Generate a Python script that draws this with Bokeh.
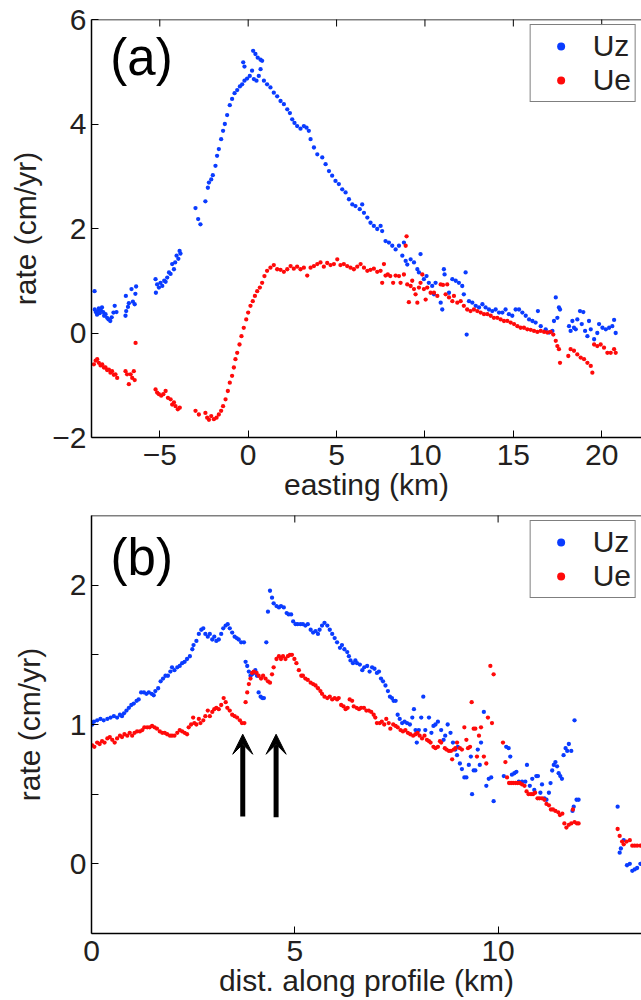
import math
from bokeh.plotting import figure
from bokeh.layouts import column
from bokeh.models import (FixedTicker, Legend, LegendItem, Label, Span,
                          Arrow, VeeHead, Range1d)
from bokeh.embed import file_html
from bokeh.resources import INLINE

# ---------------- data: panel (a) ----------------
a_uz_x = [-8.69, -8.68, -8.62, -8.55, -8.50, -8.45, -8.40, -8.33, -8.27, -8.20, -8.15, -8.07, -7.98, -7.90,
          -7.80, -7.72, -7.62, -7.55, -7.45, -6.94, -6.90, -6.92, -6.80, -6.75, -6.60, -6.52, -6.42, -6.34, -6.38,
          -5.24, -5.22, -5.15, -5.05, -4.96, -4.86, -4.75, -4.67, -4.58, -4.48, -4.39, -4.30, -4.20, -4.13,
          -4.05, -3.95, -3.88, -3.83,
          -2.98, -2.83, -2.70, -2.42, -2.28, -2.22, -2.09, -2.00, -1.85, -1.76, -1.66, -1.53, -1.42, -1.32,
          -1.19, -1.04, -0.91, -0.77, -0.62, -0.47, -0.34, -0.21, -0.06, 0.09, 0.22, 0.32, 0.47, 0.28, 0.41,
          0.54, 0.70, 0.79, -0.28, -0.21, 0.60, 0.70,
          0.89, 1.07, 1.26, 1.45, 1.64, 1.83, 2.02, 2.21, 2.36, 2.49, 2.62, 2.77, 2.96, 3.15, 3.30, 3.43,
          3.53, 3.72, 3.91, 4.19, 4.38, 4.57, 4.75, 4.94, 5.13, 5.32, 5.51, 5.70, 5.89, 6.07, 6.31, 6.45,
          6.55, 6.74, 6.92, 7.11, 7.30, 7.49, 7.58, 7.77, 7.96, 8.15, 8.34, 8.53, 8.72, 8.81, 8.91, 9.00,
          9.19, 9.38, 9.57, 9.75, 9.66, 9.94, 10.09, 10.22, 10.41, 10.51, 10.60, 10.89, 10.98, 11.07, 11.11,
          11.36, 11.55, 11.74, 11.92, 12.11, 12.20, 12.30, 12.36, 12.49, 12.68, 12.87, 13.06, 13.25, 13.43,
          13.62, 13.81, 14.00, 14.19, 14.38, 14.56, 14.75, 14.94, 15.13, 15.32, 15.51, 15.70, 15.89, 16.08,
          16.26, 16.39, 16.55, 16.83, 17.02, 17.21, 17.30, 17.40, 17.49, 17.58, 17.64, 18.15, 18.24, 18.34,
          18.43, 18.53, 18.62, 18.77, 18.87, 18.96, 19.06, 19.19, 19.28, 19.38, 19.57, 19.75, 19.85, 20.04,
          20.23, 20.42, 20.60, 20.70, 20.79]
a_uz_y = [0.80, 0.45, 0.40, 0.35, 0.42, 0.47, 0.38, 0.43, 0.49, 0.40, 0.33, 0.36, 0.29, 0.26,
          0.23, 0.30, 0.39, 0.52, 0.40, 0.33, 0.42, 0.71, 0.50, 0.57, 0.84, 0.60, 0.55, 0.89, 0.75,
          1.03, 0.77, 0.93, 0.87, 0.96, 0.90, 1.00, 0.98, 1.06, 1.16, 1.13, 1.32, 1.22, 1.35,
          1.48, 1.42, 1.57, 1.52,
          2.39, 2.18, 2.08, 2.52, 2.78, 2.88, 2.94, 3.02, 3.20, 3.39, 3.52, 3.71, 3.87, 4.00,
          4.17, 4.36, 4.48, 4.59, 4.65, 4.72, 4.76, 4.83, 4.87, 4.92, 5.02, 4.86, 4.83, 5.40, 5.34,
          5.27, 5.23, 5.21, 5.18, 5.10, 4.92, 5.05,
          4.83, 4.76, 4.70, 4.60, 4.53, 4.44, 4.38, 4.28, 4.21, 4.09, 4.02, 3.96, 3.91, 3.96, 3.93, 3.87,
          3.71, 3.55, 3.42, 3.36, 3.23, 3.10, 3.01, 2.91, 2.85, 2.75, 2.69, 2.56, 2.46, 2.43, 2.37, 2.46,
          2.30, 2.21, 2.11, 2.05, 1.99, 2.05, 1.95, 1.76, 1.73, 1.67, 1.60, 1.67, 1.48, 1.73, 1.38, 1.31,
          1.41, 1.35, 1.22, 1.51, 1.16, 1.03, 1.09, 0.96, 0.90, 0.74, 0.96, 0.58, 0.45, 1.22, 1.12,
          0.77, 1.03, 1.00, 0.96, 0.90, 0.74, 1.16, -0.03, 0.61, 0.58, 0.52, 0.49, 0.55, 0.49,
          0.45, 0.42, 0.45, 0.39, 0.39, 0.45, 0.36, 0.33, 0.45, 0.45, 0.39, 0.33, 0.26, 0.23,
          0.20, 0.42, 0.13, 0.07, 0.01, 0.04, 0.23, 0.68, 0.29, 0.49, 0.45, 0.13, 0.04, 0.23,
          0.10, 0.07, 0.26, 0.42, 0.17, 0.40, 0.04, -0.06, 0.23, 0.07, -0.12, 0.00, 0.17, 0.10,
          0.07, 0.10, 0.13, 0.25, 0.00]

a_ue_x = [-8.73, -8.63, -8.54, -8.45, -8.35, -8.26, -8.16, -8.07, -7.98, -7.88, -7.79, -7.70, -7.60, -7.51,
          -7.41, -6.94, -6.85, -6.75, -6.65, -6.56, -6.47, -6.42, -6.37,
          -5.24, -5.15, -5.05, -4.92, -4.80, -4.67, -4.54, -4.39, -4.30, -4.20, -4.11, -3.98, -3.87,
          -2.98, -2.79, -2.42, -2.32, -2.22, -2.09, -1.94, -1.79, -1.66, -1.53, -1.42, -1.28, -1.15, -1.04,
          -0.91, -0.81, -0.72, -0.62, -0.49, -0.38, -0.25, -0.11, 0.00, 0.13, 0.26, 0.38, 0.51, 0.66, 0.79,
          0.92, 1.07, 1.26, 1.45, 1.64, 1.83, 2.02, 2.21, 2.40, 2.58, 2.77, 2.96, 3.15, 3.34, 3.53, 3.72,
          3.91, 4.09, 4.28, 4.47, 4.66, 4.85, 5.04, 5.22, 5.41, 5.60, 5.79, 5.98, 6.17, 6.36, 6.55, 6.74,
          6.92, 7.11, 7.30, 7.49, 7.58, 7.68, 7.77, 7.90, 8.04, 8.20, 8.34, 8.53, 8.62, 8.81, 8.96, 8.91,
          9.00, 9.09, 9.19, 9.28, 9.38, 9.47, 9.57, 9.66, 9.75, 9.85, 9.94, 10.04, 10.13, 10.32, 10.51,
          10.70, 10.89, 11.02, 11.17, 11.26, 11.36, 11.55, 11.64, 11.83, 12.02, 12.20, 12.39, 12.58, 12.77,
          12.96, 13.15, 13.34, 13.53, 13.72, 13.90, 14.09, 14.28, 14.47, 14.66, 14.85, 15.04, 15.23, 15.41,
          15.60, 15.79, 15.98, 16.17, 16.36, 16.55, 16.74, 16.92, 17.11, 17.26, 17.40, 17.49, 17.58, 17.64,
          18.11, 18.24, 18.43, 18.62, 18.81, 19.00, 19.19, 19.38, 19.47, 19.57, 19.75, 19.94, 20.13, 20.32,
          20.51, 20.70, 20.79]
a_ue_y = [-0.60, -0.53, -0.50, -0.57, -0.62, -0.60, -0.66, -0.66, -0.71, -0.70, -0.76, -0.73, -0.80, -0.79,
          -0.86, -0.73, -0.79, -0.98, -0.79, -0.86, -0.73, -0.90, -0.19,
          -1.08, -1.14, -1.17, -1.20, -1.17, -1.11, -1.24, -1.27, -1.37, -1.33, -1.40, -1.46, -1.43,
          -1.49, -1.56, -1.53, -1.62, -1.66, -1.59, -1.65, -1.62, -1.56, -1.49, -1.40, -1.27, -1.11, -0.95,
          -0.82, -0.66, -0.50, -0.38, -0.22, -0.06, 0.10, 0.26, 0.39, 0.52, 0.61, 0.71, 0.80, 0.87, 0.96,
          1.09, 1.19, 1.25, 1.30, 1.22, 1.21, 1.17, 1.22, 1.28, 1.23, 1.27, 1.22, 1.25, 1.10, 1.25, 1.28,
          1.32, 1.35, 1.27, 1.34, 1.30, 1.32, 1.41, 1.30, 1.32, 1.28, 1.25, 1.22, 1.27, 1.32, 1.25, 1.19,
          1.21, 1.23, 1.17, 1.19, 0.96, 1.32, 1.10, 1.12, 1.09, 0.96, 1.10, 1.09, 0.96, 1.12, 1.85, 1.67,
          0.93, 0.59, 0.90, 1.00, 0.84, 0.74, 0.58, 0.87, 0.96, 1.12, 0.84, 0.64, 0.87, 0.77, 0.77,
          0.71, 0.93, 0.92, 0.74, 0.93, 0.68, 0.61, 0.71, 0.58, 0.61, 0.52, 0.45, 0.42, 0.45,
          0.42, 0.39, 0.36, 0.36, 0.33, 0.29, 0.29, 0.26, 0.23, 0.23, 0.20, 0.17, 0.13, 0.10,
          0.10, 0.07, 0.06, 0.04, 0.02, 0.04, 0.02, 0.01, 0.02, -0.03, -0.15, -0.25, -0.31, -0.57,
          -0.44, -0.31, -0.34, -0.41, -0.47, -0.50, -0.57, -0.63, -0.76, -0.22, -0.25, -0.22, -0.28, -0.38,
          -0.38, -0.31, -0.38]

# ---------------- data: panel (b) ----------------
b_uz_x = [0.02, 0.06, 0.14, 0.22, 0.30, 0.39, 0.47, 0.55, 0.63, 0.70, 0.75, 0.80, 0.86, 0.92, 0.98, 1.04,
          1.11, 1.16, 1.22, 1.29, 1.35, 1.41, 1.48, 1.53, 1.57, 1.64, 1.70, 1.76, 1.82, 1.88, 1.94, 1.98,
          2.04, 2.11, 2.17, 2.23, 2.29, 2.35, 2.42, 2.48, 2.51, 2.58, 2.64, 2.70, 2.75, 2.80, 2.86, 2.91,
          2.97, 3.02, 3.07, 3.13, 3.19, 3.24, 3.30, 3.35, 3.40, 3.46, 3.52, 3.57, 3.62, 3.68, 3.75, 3.79,
          3.83, 3.87, 3.91, 3.95, 3.99, 4.03, 4.07, 4.11, 4.16, 4.20, 4.24, 4.30, 4.34, 4.39, 4.44, 4.48,
          4.55, 4.61, 4.66, 4.73, 4.80, 4.85, 4.91, 4.96, 5.02, 5.07, 5.14, 5.20, 5.26, 5.32, 5.39, 5.45,
          5.51, 5.57, 5.61, 5.67, 5.73, 5.80, 5.86, 5.92, 5.98, 6.04, 6.11, 6.16, 6.22, 6.29, 6.33, 6.37,
          6.43, 6.49, 6.53, 6.60, 6.66, 6.71, 6.78, 6.84, 6.90, 6.96, 7.02, 7.07, 7.12, 7.17, 7.23, 7.29,
          7.34, 7.39, 7.43, 7.48, 7.53, 7.58, 7.64, 7.70, 7.76, 7.83, 7.89, 7.93, 7.97, 8.00, 8.05, 8.11,
          8.16, 8.21, 8.30, 8.36, 8.41, 8.46, 8.52, 8.60, 8.66, 8.70, 8.76, 8.83, 8.89, 8.95, 8.99, 9.01,
          9.06, 9.11, 9.17, 9.22, 9.28, 9.33, 9.36, 9.40, 9.44, 9.50, 9.55, 9.58, 9.65, 9.71, 9.77, 9.83,
          9.89, 10.14, 10.20, 10.26, 10.30, 10.34, 10.40, 10.45, 10.51, 10.59, 10.67, 10.71, 10.78, 10.84,
          10.89, 10.94, 10.98, 11.04, 11.08, 11.14, 11.19, 11.25, 11.29, 11.33, 11.37, 11.41, 11.45, 11.49,
          11.53, 11.57, 11.61, 11.66, 11.70, 11.74, 11.80, 11.88, 11.83, 11.86, 11.93, 11.98,
          12.94, 12.99, 13.02, 13.09, 13.17, 13.24, 13.30, 13.36, 13.42, 13.50]
b_uz_y = [1.00, 1.02, 1.03, 1.04, 1.03, 1.04, 1.05, 1.06, 1.05, 1.07, 1.06, 1.08, 1.10, 1.12, 1.14, 1.15,
          1.17, 1.18, 1.23, 1.23, 1.22, 1.23, 1.22, 1.21, 1.24, 1.26, 1.31, 1.33, 1.35, 1.35, 1.38, 1.41,
          1.39, 1.41, 1.42, 1.44, 1.45, 1.47, 1.49, 1.54, 1.57, 1.60, 1.65, 1.68, 1.69, 1.65, 1.63, 1.65,
          1.61, 1.63, 1.60, 1.61, 1.65, 1.69, 1.71, 1.72, 1.69, 1.66, 1.63, 1.62, 1.61, 1.59, 1.59, 1.45,
          1.42, 1.38, 1.35, 1.36, 1.37, 1.39, 1.35, 1.23, 1.20, 1.19, 1.19, 1.59, 1.81, 1.96, 1.91, 1.87,
          1.85, 1.84, 1.85, 1.84, 1.80, 1.79, 1.79, 1.74, 1.72, 1.72, 1.72, 1.72, 1.71, 1.72, 1.68, 1.66,
          1.67, 1.65, 1.68, 1.71, 1.73, 1.71, 1.68, 1.65, 1.62, 1.59, 1.55, 1.57, 1.54, 1.52, 1.49, 1.46,
          1.44, 1.46, 1.44, 1.43, 1.39, 1.41, 1.42, 1.38, 1.41, 1.40, 1.37, 1.38, 1.33, 1.31, 1.28, 1.24,
          1.20, 1.19, 1.17, 1.17, 1.07, 1.04, 1.01, 1.02, 1.01, 1.00, 1.05, 1.11, 0.96, 0.87, 0.96, 1.05,
          1.20, 0.96, 1.05, 0.94, 0.99, 1.00, 1.02, 0.96, 0.89, 0.92, 1.00, 0.94, 0.87, 0.82, 0.78, 0.84,
          0.72, 0.68, 0.62, 0.62, 0.71, 0.77, 0.50, 0.67, 0.67, 0.82, 0.71, 0.87, 1.09, 0.56, 0.61, 0.62,
          0.45, 0.63, 0.84, 0.83, 0.77, 0.64, 0.65, 0.66, 0.59, 0.59, 0.59, 0.71, 0.56, 0.61,
          0.53, 0.63, 0.63, 0.51, 0.57, 0.47, 0.46, 0.51, 0.58, 0.67, 0.71, 0.73, 0.70, 0.65,
          0.63, 0.61, 0.78, 0.83, 0.81, 0.86, 0.81, 1.03, 0.38, 0.41, 0.46, 0.46,
          0.41, 0.08, 0.11, 0.17, -0.01, 0.00, -0.05, -0.04, -0.03, 0.00]

b_ue_x = [0.02, 0.07, 0.14, 0.20, 0.26, 0.32, 0.39, 0.45, 0.51, 0.57, 0.63, 0.70, 0.75, 0.81, 0.88, 0.94,
          1.00, 1.06, 1.12, 1.19, 1.25, 1.30, 1.37, 1.43, 1.49, 1.55, 1.61, 1.68, 1.74, 1.80, 1.86, 1.93,
          1.98, 2.04, 2.11, 2.17, 2.23, 2.29, 2.35, 2.39, 2.45, 2.50, 2.53, 2.58, 2.64, 2.68, 2.75, 2.80,
          2.86, 2.91, 2.97, 3.02, 3.07, 3.13, 3.19, 3.25, 3.30, 3.34, 3.40, 3.46, 3.52, 3.58, 3.65, 3.70,
          3.76, 3.79, 3.83, 3.87, 3.91, 3.95, 3.99, 4.06, 4.11, 4.17, 4.22, 4.28, 4.34, 4.39, 4.44, 4.48,
          4.55, 4.61, 4.66, 4.71, 4.77, 4.83, 4.88, 4.93, 4.99, 5.04, 5.10, 5.16, 5.20, 5.26, 5.32, 5.39,
          5.45, 5.51, 5.57, 5.63, 5.67, 5.73, 5.80, 5.86, 5.92, 5.98, 6.04, 6.08, 6.14, 6.20, 6.25, 6.30,
          6.35, 6.41, 6.45, 6.52, 6.58, 6.63, 6.70, 6.76, 6.82, 6.88, 6.94, 6.98, 7.02, 7.09, 7.14, 7.20,
          7.25, 7.31, 7.35, 7.42, 7.48, 7.53, 7.60, 7.66, 7.72, 7.78, 7.84, 7.91, 7.97, 8.02, 8.07, 8.13,
          8.19, 8.25, 8.30, 8.34, 8.41, 8.46, 8.52, 8.57, 8.60, 8.69, 8.73, 8.79, 8.84, 8.87, 8.91, 8.95,
          8.99, 9.06, 9.11, 9.17, 9.22, 9.26, 9.31, 9.35, 9.40, 9.44, 9.48, 9.53, 9.58, 9.65, 9.71, 9.75,
          9.81, 9.85, 9.89, 10.12, 10.18, 10.22, 10.27, 10.32, 10.37, 10.43, 10.48, 10.53, 10.59, 10.65,
          10.70, 10.75, 10.81, 10.86, 10.91, 10.97, 11.02, 11.08, 11.14, 11.19, 11.25, 11.30, 11.35, 11.41,
          11.48, 11.52, 11.58, 11.63, 11.68, 11.74, 11.80, 11.84, 11.88, 11.94, 11.98,
          12.94, 12.99, 13.05, 13.09, 13.16, 13.24, 13.30, 13.36, 13.42, 13.50]
b_ue_y = [0.85, 0.84, 0.87, 0.86, 0.88, 0.87, 0.90, 0.91, 0.89, 0.87, 0.90, 0.92, 0.91, 0.93, 0.92, 0.94,
          0.92, 0.94, 0.95, 0.95, 0.96, 0.98, 0.98, 0.98, 0.99, 0.98, 0.97, 0.95, 0.94, 0.94, 0.93, 0.92,
          0.92, 0.92, 0.94, 0.96, 0.95, 0.94, 0.93, 0.98, 1.00, 1.05, 1.01, 1.00, 1.04, 1.01, 1.03, 1.06,
          1.10, 1.06, 1.09, 1.11, 1.12, 1.11, 1.14, 1.19, 1.16, 1.12, 1.10, 1.07, 1.06, 1.05, 1.03, 1.01,
          1.01, 1.16, 1.23, 1.29, 1.33, 1.37, 1.38, 1.37, 1.35, 1.33, 1.35, 1.33, 1.31, 1.30, 1.36, 1.41,
          1.47, 1.49, 1.47, 1.49, 1.47, 1.49, 1.50, 1.50, 1.47, 1.44, 1.39, 1.35, 1.35, 1.33, 1.32, 1.30,
          1.29, 1.28, 1.26, 1.24, 1.22, 1.20, 1.19, 1.20, 1.18, 1.19, 1.18, 1.19, 1.14, 1.13, 1.11, 1.12,
          1.18, 1.17, 1.13, 1.12, 1.11, 1.12, 1.12, 1.10, 1.10, 1.09, 1.07, 1.05, 1.01, 1.01, 1.02, 1.00,
          1.04, 1.01, 0.97, 1.00, 0.99, 0.98, 0.96, 0.95, 0.96, 0.94, 0.93, 0.92, 0.93, 0.94, 0.92, 0.90,
          0.92, 0.89, 0.88, 0.87, 0.84, 0.83, 0.84, 0.88, 0.87, 0.83, 0.82, 0.81, 0.81, 0.75, 0.82, 0.83,
          0.87, 0.83, 0.82, 0.98, 0.89, 0.83, 0.84, 1.16, 0.97, 0.97, 0.77, 0.92, 0.98, 0.77, 0.72, 1.05,
          1.42, 1.01, 1.36, 0.87, 0.73, 0.62, 0.58, 0.58, 0.58, 0.58, 0.58, 0.58, 0.57, 0.56,
          0.52, 0.50, 0.50, 0.50, 0.51, 0.47, 0.47, 0.47, 0.46, 0.43, 0.42, 0.39, 0.39, 0.38,
          0.37, 0.35, 0.36, 0.29, 0.26, 0.28, 0.29, 0.39, 0.30, 0.29, 0.29,
          0.25, 0.20, 0.16, 0.14, 0.16, 0.17, 0.13, 0.13, 0.13, 0.13]

# ticks / labels
a_xticks = [-5, 0, 5, 10, 15, 20]
a_yticks = [-2, 0, 2, 4, 6]
b_xticks = [0, 5, 10]
b_yticks = [0, 1, 2]
b_yminor = [0.5, 1.5]
arrow_x = [3.72, 4.54]
arrow_y0 = [0.34, 0.335]
arrow_y1 = [0.93, 0.93]

BLUE = "#0a3cff"
RED = "#ff0a0a"
TXT = "#231f20"
FONT = "Liberation Sans"
FS = "30px"


def fmt(t):
    return "\u2212" + str(-t) if t < 0 else str(t)


def style_axis(ax, ticks, minor=None):
    ax.ticker = FixedTicker(ticks=ticks, minor_ticks=minor or [])
    ax.major_label_overrides = {t: fmt(t) for t in ticks}
    ax.axis_line_width = 1.5
    ax.axis_line_color = "black"
    ax.major_tick_in = 7
    ax.major_tick_out = 0
    ax.minor_tick_in = 7 if minor else 0
    ax.minor_tick_out = 0
    ax.major_tick_line_color = "black"
    ax.minor_tick_line_color = "black"
    ax.major_label_text_font = FONT
    ax.major_label_text_font_size = FS
    ax.major_label_text_color = TXT
    ax.axis_label_text_font = FONT
    ax.axis_label_text_font_size = FS
    ax.axis_label_text_font_style = "normal"
    ax.axis_label_text_color = TXT


def make_panel(xr, yr, xt, yt, ymin, xlabel, tag, tag_x, tag_y, uzx, uzy, uex, uey,
               height, top_border, ylab_standoff):
    p = figure(width=641, height=height, x_range=Range1d(*xr), y_range=Range1d(*yr),
               output_backend="svg", toolbar_location=None,
               min_border_left=91, min_border_right=0, min_border_top=top_border,
               min_border_bottom=0)
    p.outline_line_color = None
    p.xgrid.visible = False
    p.ygrid.visible = False
    p.background_fill_color = "white"
    p.border_fill_color = "white"

    style_axis(p.xaxis[0], xt)
    style_axis(p.yaxis[0], yt, ymin)
    p.xaxis[0].major_label_standoff = 7
    p.xaxis[0].axis_label_standoff = 0
    p.yaxis[0].major_label_standoff = 5
    p.yaxis[0].axis_label_standoff = ylab_standoff
    p.xaxis[0].axis_label = xlabel
    p.yaxis[0].axis_label = "rate (cm/yr)"

    # top border of the box with inward ticks (MATLAB style box)
    p.add_layout(Span(location=yr[1], dimension="width", line_color="black", line_width=1.5))
    p.scatter(xt, [yr[1]] * len(xt), marker="dash", angle=math.pi / 2, size=14,
              line_color="black", line_width=1)

    r1 = p.scatter(uzx, uzy, size=4.3, color=BLUE, line_color=None)
    r2 = p.scatter(uex, uey, size=4.3, color=RED, line_color=None)

    leg = Legend(items=[LegendItem(label="Uz", renderers=[r1]),
                        LegendItem(label="Ue", renderers=[r2])],
                 location="top_right")
    leg.label_text_font = FONT
    leg.label_text_font_size = FS
    leg.label_text_color = TXT
    leg.border_line_color = "black"
    leg.border_line_width = 1.5
    leg.padding = 4
    leg.spacing = 0
    leg.margin = 5
    leg.glyph_width = 52
    leg.label_standoff = 6
    leg.label_height = 33
    p.add_layout(leg, "center")

    p.add_layout(Label(x=tag_x, y=tag_y, text=tag, text_font=FONT, text_font_size="51px",
                       text_color="black", text_baseline="top"))
    return p


pa = make_panel((-8.863, 22.25), (-2, 6), a_xticks, a_yticks, None, "easting (km)", "(a)",
                -7.8, 5.81, a_uz_x, a_uz_y, a_ue_x, a_ue_y, 503, 19, 7)
pb = make_panel((0, 13.527), (-0.5, 2.5), b_xticks, b_yticks, b_yminor, "dist. along profile (km)", "(b)",
                0.47, 2.40, b_uz_x, b_uz_y, b_ue_x, b_ue_y, 496, 12, 21)

for xa, y0, y1 in zip(arrow_x, arrow_y0, arrow_y1):
    pb.add_layout(Arrow(end=VeeHead(size=20, fill_color="black", line_color="black"),
                        x_start=xa, y_start=y0, x_end=xa, y_end=y1,
                        line_width=5, line_color="black"))

layout = column(pa, pb, spacing=0)
open("out.html", "w").write(file_html(layout, INLINE))
